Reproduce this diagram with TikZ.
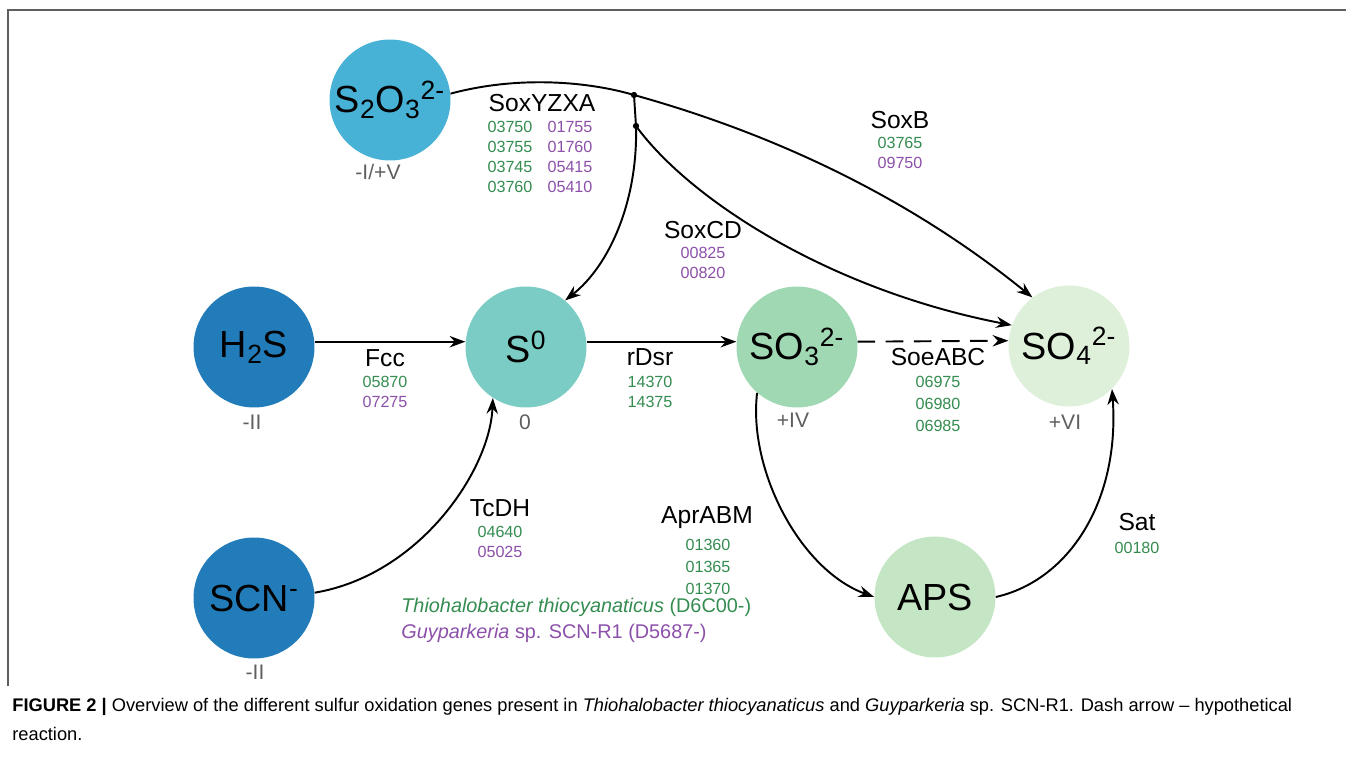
\documentclass[tikz,border=0pt]{standalone}
\usepackage{fontspec}
\setmainfont{Liberation Sans}
\usetikzlibrary{arrows.meta,positioning}
\definecolor{sxblue}{RGB}{72,177,214}
\definecolor{sxdark}{RGB}{34,124,186}
\definecolor{sxteal}{RGB}{123,204,196}
\definecolor{sxmint}{RGB}{160,216,180}
\definecolor{sxpale}{RGB}{196,230,196}
\definecolor{sxwhite}{RGB}{222,240,218}
\definecolor{tgreen}{RGB}{52,140,80}
\definecolor{gpurple}{RGB}{140,80,170}
\definecolor{oxgray}{RGB}{95,95,95}

\begin{document}
\begin{tikzpicture}[x=0.02cm,y=-0.02cm,
  species/.style={circle,minimum size=2.42cm,inner sep=0pt,font=\fontsize{21.5}{25}\selectfont},
  ox/.style={text=oxgray,font=\fontsize{12}{14}\selectfont},
  enz/.style={font=\fontsize{14}{16}\selectfont},
  genes/.style={anchor=north,inner sep=0pt,align=center,font=\fontsize{9.2}{11.3}\selectfont},
  rxn/.style={line width=1.1pt,-{Stealth[length=9pt,width=6.5pt,inset=3pt]}}]
\useasboundingbox (0,0) rectangle (1346,777);
% Frame
\draw[oxgray,line width=0.8pt] (8,686) -- (8,10) -- (1346,10);
% Sulfur species
\node[species,fill=sxblue] (s2o3) at (390,100) {S\textsubscript{2}O\textsubscript{3}\textsuperscript{2-}};
\node[species,fill=sxdark] (h2s) at (254,347) {H\textsubscript{2}S};
\node[species,fill=sxteal] (s0) at (526,347) {S\textsuperscript{0}};
\node[species,fill=sxmint] (so3) at (797,347) {SO\textsubscript{3}\textsuperscript{2-}};
\node[species,fill=sxwhite] (so4) at (1069,346) {SO\textsubscript{4}\textsuperscript{2-}};
\node[species,fill=sxdark] (scn) at (254,598) {SCN\textsuperscript{-}};
\node[species,fill=sxpale] (aps) at (935,597) {APS};
% Oxidation states
\node[ox] at (378,172) {-I/+V};
\node[ox] at (252,422) {-II};
\node[ox] at (525,422) {0};
\node[ox] at (793,420) {+IV};
\node[ox] at (1065,422) {+VI};
\node[ox] at (255,672) {-II};
% Branch points
\coordinate (j1) at (634,95);
\coordinate (j2) at (636,126);
% Reactions
\draw[line width=1.1pt] (s2o3.6) .. controls (520,75) and (590,82) .. (j1);
\draw[rxn] (j1) .. controls (760,130) and (900,190) .. (so4.127);
\draw[line width=1.1pt] (j1) -- (j2);
\draw[rxn] (j2) .. controls (638,200) and (610,265) .. (s0.50);
\draw[rxn] (j2) .. controls (690,200) and (830,290) .. (so4.160);
\fill (j1) circle (1.8pt);
\fill (j2) circle (1.8pt);
\draw[rxn] (h2s.5) -- (s0.175);
\draw[rxn] (s0.5) -- (so3.175);
\draw[rxn,dash pattern=on 10pt off 6pt] (so3.5) -- (so4.175);
\draw[rxn] (scn.5) .. controls (420,575) and (490,470) .. (s0.-123);
\draw[rxn] (so3.-131) .. controls (748,470) and (800,570) .. (aps.west);
\draw[rxn] (aps.east) .. controls (1070,580) and (1120,500) .. (so4.-45);
% Enzymes and genes
\node[enz] (soxyzxa) at (542,103) {SoxYZXA};
\node[genes,text=tgreen] at (510,121) {03750\\03755\\03745\\03760};
\node[genes,text=gpurple] at (570,121) {01755\\01760\\05415\\05410};
\node[enz] (soxb) at (900,120) {SoxB};
\node[genes] at (900,137) {\textcolor{tgreen}{03765}\\\textcolor{gpurple}{09750}};
\node[enz] (soxcd) at (703,230) {SoxCD};
\node[genes,text=gpurple] at (703,247) {00825\\00820};
\node[enz] (fcc) at (385,358) {Fcc};
\node[genes] at (385,376) {\textcolor{tgreen}{05870}\\\textcolor{gpurple}{07275}};
\node[enz] (rdsr) at (650,357) {rDsr};
\node[genes,text=tgreen] at (650,376) {14370\\14375};
\node[enz] (soeabc) at (938,357) {SoeABC};
\node[genes,text=tgreen,font=\fontsize{9.2}{12.5}\selectfont] at (938,376) {06975\\06980\\06985};
\node[enz] (tcdh) at (500,508) {TcDH};
\node[genes] at (500,526) {\textcolor{tgreen}{04640}\\\textcolor{gpurple}{05025}};
\node[enz] (aprabm) at (707,518) {AprABM};
\node[genes,text=tgreen,font=\fontsize{9.2}{12.5}\selectfont] at (708,539) {01360\\01365\\01370};
\node[enz] (sat) at (1137,522) {Sat};
\node[genes,text=tgreen] at (1137,542) {00180};
% Legend
\node[anchor=west,inner sep=0pt,text=tgreen,font=\fontsize{11.3}{13}\selectfont] (leg1) at (401,607) {\textit{Thiohalobacter thiocyanaticus} (D6C00-)};
\node[anchor=west,inner sep=0pt,text=gpurple,font=\fontsize{11.3}{13}\selectfont] (leg2) at (401,633) {\textit{Guyparkeria} sp. SCN-R1 (D5687-)};
% Caption
\node[anchor=north west,align=left,inner sep=0pt,font=\fontsize{10.4}{16.4}\selectfont] (cap) at (12,698)
  {\textbf{FIGURE 2 |} Overview of the different sulfur oxidation genes present in \textit{Thiohalobacter thiocyanaticus} and \textit{Guyparkeria} sp. SCN-R1. Dash arrow -- hypothetical\\reaction.};
\end{tikzpicture}
\end{document}
